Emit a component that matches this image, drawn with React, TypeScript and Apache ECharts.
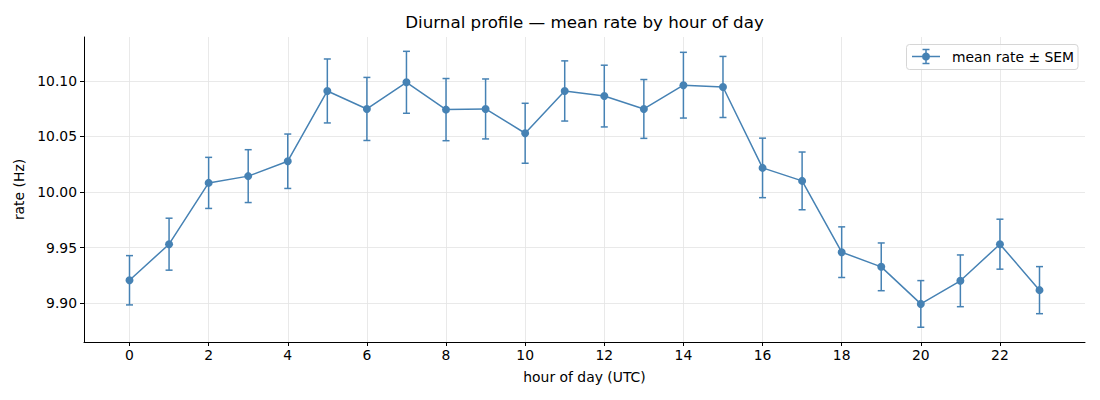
import { useEffect, useRef } from 'react'
import * as echarts from 'echarts'

// hourly mean rate (Hz) and its standard error
const hours = [0, 1, 2, 3, 4, 5, 6, 7, 8, 9, 10, 11, 12, 13, 14, 15, 16, 17, 18, 19, 20, 21, 22, 23]
const meanRate = [
  9.9205, 9.953, 10.0082, 10.0143, 10.0277, 10.091, 10.0748, 10.0988,
  10.0742, 10.0748, 10.0529, 10.091, 10.0864, 10.0748, 10.0962, 10.0946,
  10.0217, 10.0100, 9.9458, 9.9326, 9.8992, 9.9200, 9.9530, 9.9116,
]
const sem = [
  0.0222, 0.0234, 0.0230, 0.0238, 0.0245, 0.0288, 0.0284, 0.0279,
  0.0280, 0.0270, 0.0270, 0.0271, 0.0278, 0.0265, 0.0296, 0.0275,
  0.0268, 0.0260, 0.0228, 0.0215, 0.0210, 0.0233, 0.0225, 0.0212,
]
const xTicks = [0, 2, 4, 6, 8, 10, 12, 14, 16, 18, 20, 22]
const yTicks = [9.9, 9.95, 10.0, 10.05, 10.1]

const COLOR = '#4682b4'
const FONT = 'DejaVu Sans'
const FS = 13.9

export default function App() {
  const chartRef = useRef<HTMLDivElement>(null)

  useEffect(() => {
    if (!chartRef.current) return
    const chart = echarts.init(chartRef.current, null, { renderer: 'svg' })

    const points = hours.map((h, i) => [h, meanRate[i]])
    const bars = hours.map((h, i) => [h, meanRate[i] - sem[i], meanRate[i] + sem[i]])

    const option: any = {
      animation: false,
      backgroundColor: '#ffffff',
      grid: { left: 84, right: 15, top: 37, bottom: 58 },
      xAxis: {
        type: 'value',
        min: -1.15,
        max: 24.15,
        name: 'hour of day (UTC)',
        nameLocation: 'middle',
        nameGap: 28,
        nameTextStyle: { fontFamily: FONT, fontSize: FS, color: '#000' },
        axisLine: { show: true, onZero: false, lineStyle: { color: '#000', width: 1 } },
        axisTick: { show: true, length: 4, customValues: xTicks, lineStyle: { color: '#000' } },
        axisLabel: { customValues: xTicks, fontFamily: FONT, fontSize: FS, color: '#000', margin: 6 },
        splitLine: { show: true, customValues: xTicks, lineStyle: { color: '#e3e3e3', width: 0.8 } },
      },
      yAxis: {
        type: 'value',
        min: 9.8649,
        max: 10.1396,
        name: 'rate (Hz)',
        nameLocation: 'middle',
        nameGap: 56,
        nameTextStyle: { fontFamily: FONT, fontSize: FS, color: '#000' },
        axisLine: { show: true, onZero: false, lineStyle: { color: '#000', width: 1 } },
        axisTick: { show: true, length: 4, customValues: yTicks, lineStyle: { color: '#000' } },
        axisLabel: {
          customValues: yTicks,
          fontFamily: FONT,
          fontSize: FS,
          color: '#000',
          margin: 7,
          formatter: (v: number) => v.toFixed(2),
        },
        splitLine: { show: true, customValues: yTicks, lineStyle: { color: '#e3e3e3', width: 0.8 } },
      },
      series: [
        {
          name: 'sem',
          type: 'custom',
          data: bars,
          encode: { x: 0, y: [1, 2] },
          z: 2,
          renderItem: (_params: any, api: any) => {
            const x = api.value(0)
            const top = api.coord([x, api.value(2)])
            const bottom = api.coord([x, api.value(1)])
            const hw = 3.5
            const style = { stroke: COLOR, lineWidth: 1.5, fill: 'none' }
            return {
              type: 'group',
              children: [
                { type: 'line', shape: { x1: top[0], y1: top[1], x2: bottom[0], y2: bottom[1] }, style },
                { type: 'line', shape: { x1: top[0] - hw, y1: top[1], x2: top[0] + hw, y2: top[1] }, style },
                { type: 'line', shape: { x1: bottom[0] - hw, y1: bottom[1], x2: bottom[0] + hw, y2: bottom[1] }, style },
              ],
            }
          },
        },
        {
          name: 'mean rate ± SEM',
          type: 'line',
          data: points,
          z: 3,
          symbol: 'circle',
          symbolSize: 8,
          lineStyle: { color: COLOR, width: 1.5 },
          itemStyle: { color: COLOR },
        },
      ],
      graphic: [
        {
          // title, centred over the plot area like matplotlib does
          type: 'text',
          x: 584.5,
          y: 13,
          style: {
            text: 'Diurnal profile — mean rate by hour of day',
            fontFamily: FONT,
            fontSize: 16.7,
            fill: '#000',
            textAlign: 'center',
            verticalAlign: 'top',
          },
        },
        {
          type: 'rect',
          shape: { x: 906.5, y: 44.5, width: 171.5, height: 25, r: 3 },
          style: { fill: 'rgba(255,255,255,0.8)', stroke: '#d6d6d6', lineWidth: 1 },
          z: 10,
        },
        {
          type: 'line',
          shape: { x1: 912, y1: 56.5, x2: 940, y2: 56.5 },
          style: { stroke: COLOR, lineWidth: 1.5 },
          z: 11,
        },
        {
          type: 'line',
          shape: { x1: 926, y1: 49.5, x2: 926, y2: 63.5 },
          style: { stroke: COLOR, lineWidth: 1.5 },
          z: 11,
        },
        {
          type: 'line',
          shape: { x1: 922.5, y1: 49.5, x2: 929.5, y2: 49.5 },
          style: { stroke: COLOR, lineWidth: 1.5 },
          z: 11,
        },
        {
          type: 'line',
          shape: { x1: 922.5, y1: 63.5, x2: 929.5, y2: 63.5 },
          style: { stroke: COLOR, lineWidth: 1.5 },
          z: 11,
        },
        {
          type: 'circle',
          shape: { cx: 926, cy: 56.5, r: 4 },
          style: { fill: COLOR },
          z: 11,
        },
        {
          type: 'text',
          x: 952,
          y: 56.5,
          style: {
            text: 'mean rate ± SEM',
            fontFamily: FONT,
            fontSize: FS,
            fill: '#000',
            verticalAlign: 'middle',
          },
          z: 11,
        },
      ],
    }

    chart.setOption(option)

    return () => {
      chart.dispose()
    }
  }, [])

  return (
    <div
      ref={chartRef}
      style={{ position: 'fixed', left: 0, top: 0, width: '1100px', height: '400px' }}
    />
  )
}
